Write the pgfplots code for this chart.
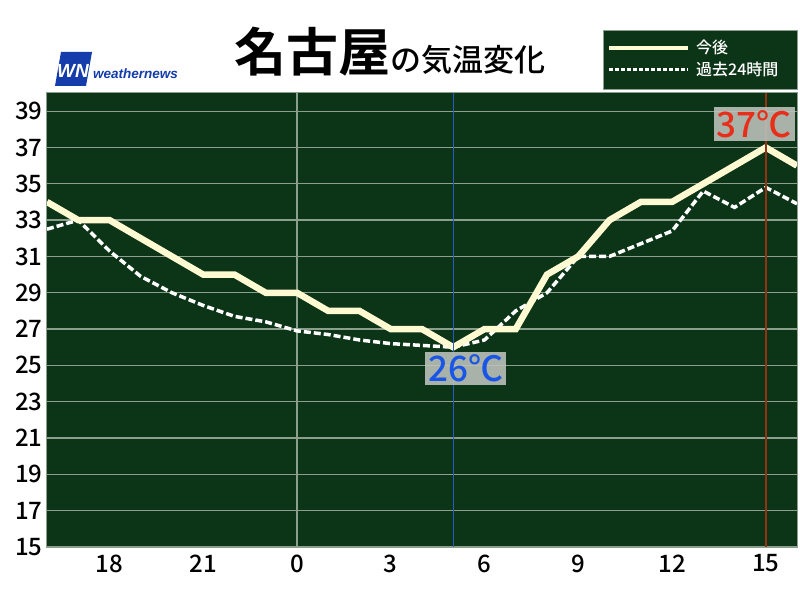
\documentclass[border=0pt]{standalone}
\usepackage{fontspec}
\usepackage{pgfplots}
\pgfplotsset{compat=1.18}
\setmainfont{Noto Sans CJK JP}[BoldFont={Noto Sans CJK JP Bold}]
\newfontfamily\med{Noto Sans CJK JP Medium}
\newfontfamily\lat{Liberation Sans}
\definecolor{bg}{RGB}{12,52,23}
\definecolor{gridc}{RGB}{140,158,140}
\definecolor{cream}{RGB}{255,250,210}
\definecolor{vblue}{RGB}{40,90,200}
\definecolor{vred}{RGB}{150,50,20}
\definecolor{lblue}{RGB}{25,85,230}
\definecolor{lred}{RGB}{232,45,25}
\definecolor{boxgray}{RGB}{190,196,190}
\definecolor{wnblue}{RGB}{20,60,170}
\begin{document}
\begin{tikzpicture}[x=1pt,y=1pt]
\fill[white] (0,0) rectangle (800,600);
\path[use as bounding box] (0,0) rectangle (800,600);
\begin{axis}[at={(47pt,53pt)}, anchor=south west, scale only axis,
  width=750pt, height=454pt,
  xmin=-8, xmax=16, ymin=15, ymax=40,
  axis background/.style={fill=bg},
  axis line style={draw=gridc, line width=1pt},
  ytick={15,17,...,39},
  xtick={-6,-3,0,3,6,9,12,15}, xticklabels={18,21,0,3,6,9,12,15},
  major tick length=0pt,
  ymajorgrids, grid style={draw=gridc, line width=1.3pt},
  /pgf/number format/assume math mode=true,
  tick label style={font=\med\fontsize{24}{24}\selectfont, text=black},
  yticklabel style={xshift=-1pt},
  xticklabel style={yshift=-4pt},
]
\draw[gridc, line width=1.3pt] (axis cs:0,15) -- (axis cs:0,40);
% past 24 hours (dashed)
\addplot[white, line width=3.5pt, dash pattern=on 7pt off 3pt] coordinates {
(-8,32.5) (-7,33.0) (-6,31.3) (-5,29.9) (-4,29.0) (-3,28.3) (-2,27.7) (-1,27.4)
(0,26.9) (1,26.7) (2,26.4) (3,26.2) (4,26.1) (5,26.0) (6,26.4) (7,28.0)
(8,29.0) (9,31.0) (10,31.0) (11,31.7) (12,32.4) (13,34.6) (14,33.7) (15,34.8) (16,33.9)};
% forecast (solid)
\addplot[cream, line width=6.5pt, line join=miter] coordinates {
(-8,34) (-7,33) (-6,33) (-5,32) (-4,31) (-3,30) (-2,30) (-1,29)
(0,29) (1,28) (2,28) (3,27) (4,27) (5,26) (6,27) (7,27)
(8,30) (9,31) (10,33) (11,34) (12,34) (13,35) (14,36) (15,37) (16,36)};
\draw[vblue, line width=1.2pt] (axis cs:5,15) -- (axis cs:5,40);
\draw[vred, line width=1.5pt] (axis cs:15,15) -- (axis cs:15,40);
\node[anchor=north, fill=boxgray, fill opacity=0.88, text opacity=1, text=lblue,
  inner xsep=3pt, inner ysep=3pt, font=\med\fontsize{35}{35}\selectfont]
  at (axis cs:5.4,25.75) {26℃};
\node[anchor=south, fill=boxgray, fill opacity=0.88, text opacity=1, text=lred,
  inner xsep=3pt, inner ysep=3pt, font=\med\fontsize{35}{35}\selectfont]
  at (axis cs:14.63,37.35) {37℃};
\end{axis}
% title
\node[anchor=base west, inner sep=0pt, font=\bfseries\fontsize{52}{52}\selectfont] at (234,528) {名古屋};
\node[anchor=base west, inner sep=0pt, font=\med\fontsize{31}{31}\selectfont] at (390,528) {の気温変化};
% logo
\fill[wnblue] (55,514) -- (61,548) -- (92,548) -- (86,514) -- cycle;
\node[anchor=center, inner sep=0pt, text=white, font=\lat\bfseries\itshape\fontsize{19}{19}\selectfont] at (73,529) {WN};
\node[anchor=west, inner sep=0pt, text=wnblue, font=\lat\bfseries\itshape\fontsize{13.5}{13.5}\selectfont] at (93,526) {weathernews};
% legend
\draw[fill=bg, draw=gridc, line width=0.6pt] (603,511) rectangle (797,570);
\draw[cream, line width=3.5pt] (609,552) -- (688,552);
\draw[white, line width=3pt, dash pattern=on 4pt off 2pt] (609,530) -- (688,530);
\node[anchor=west, inner sep=0pt, text=white, font=\med\fontsize{16}{16}\selectfont] at (696,553) {今後};
\node[anchor=west, inner sep=0pt, text=white, font=\med\fontsize{16}{16}\selectfont] at (696,531) {過去24時間};
\end{tikzpicture}
\end{document}
